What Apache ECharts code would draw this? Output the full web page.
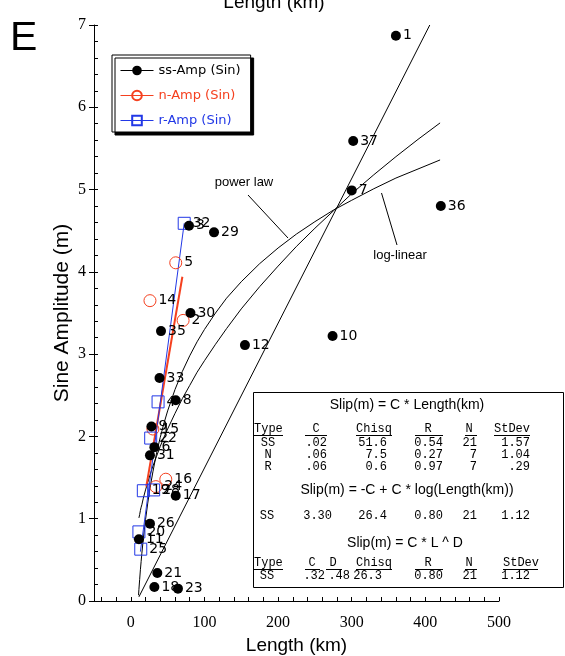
<!DOCTYPE html>
<html>
<head>
<meta charset="utf-8">
<script src="https://cdn.jsdelivr.net/npm/echarts@6/dist/echarts.min.js"></script>
<style>
  html, body { margin: 0; padding: 0; background: #fff; }
  #chart { width: 565px; height: 656px; }
</style>
</head>
<body>
<div id="chart"></div>
<script>
// Strike-slip (ss), normal (n) and reverse (r) sine amplitudes vs. rupture length
const ssIds    = ['1','37','7','36','10','12','29','3','30','35','33','8','9','6','31','17','26','11','21','18','23'];
const ssLength = [360, 302, 300, 421, 274, 155, 113, 79, 81, 41, 39, 61, 28, 32, 26, 61, 26, 11, 36, 32, 64];
const ssSlip   = [6.87, 5.59, 4.99, 4.80, 3.22, 3.11, 4.48, 4.56, 3.50, 3.28, 2.71, 2.44, 2.12, 1.87, 1.77, 1.28, 0.94, 0.75, 0.34, 0.17, 0.15];

const nIds    = ['5','14','2','15','16','24'];
const nLength = [61, 26, 71, 30, 47.5, 34];
const nSlip   = [4.11, 3.65, 3.41, 2.09, 1.48, 1.39];

const rIds    = ['32','4','22','19','28','20','25'];
const rLength = [72.5, 37, 27, 17, 31, 11, 13.5];
const rSlip   = [4.59, 2.42, 1.98, 1.34, 1.35, 0.84, 0.63];

// Fitted relations (ss linear, ss log-linear, ss power law, n and r linear)
const linFitL = [11, 406];
const linFitS = [0.05, 7.0];
const logFitL = [10.5, 11, 12, 13, 14, 15, 17, 20, 23, 26, 30, 35, 40, 45, 50, 60, 70, 80, 90, 100, 115, 130, 150, 175, 200, 225, 250, 275, 300, 330, 360, 390, 420];
const logFitS = [0.07, 0.14, 0.26, 0.38, 0.48, 0.58, 0.76, 0.99, 1.19, 1.37, 1.57, 1.80, 1.99, 2.16, 2.31, 2.57, 2.79, 2.98, 3.15, 3.30, 3.50, 3.68, 3.88, 4.10, 4.29, 4.46, 4.61, 4.75, 4.87, 5.01, 5.14, 5.25, 5.36];
const powFitL = [11, 12, 13, 14, 15, 17, 20, 23, 26, 30, 35, 40, 45, 50, 60, 70, 80, 90, 100, 115, 130, 150, 175, 200, 225, 250, 275, 300, 330, 360, 390, 420];
const powFitS = [1.01, 1.05, 1.10, 1.14, 1.17, 1.25, 1.35, 1.44, 1.53, 1.64, 1.76, 1.88, 1.99, 2.09, 2.28, 2.46, 2.62, 2.78, 2.92, 3.12, 3.31, 3.55, 3.82, 4.07, 4.31, 4.53, 4.74, 4.95, 5.18, 5.40, 5.61, 5.81];
const nFitL = [21, 70];
const nFitS = [1.39, 3.94];
const rFitL = [13, 72.5];
const rFitS = [0.60, 4.59];

// Axis ticks
const xLabelValues = [0, 100, 200, 300, 400, 500];
const xTickValues = [-40, -20, 0, 20, 40, 60, 80, 100, 120, 140, 160, 180, 200, 220, 240, 260, 280, 300, 320, 340, 360, 380, 400, 420, 440, 460, 480, 500];

// Fit statistics table
const fitTitles = ['Slip(m) = C * Length(km)', 'Slip(m) = -C + C * log(Length(km))', 'Slip(m) = C * L ^ D'];
const linHeader = ['Type', 'C', 'Chisq', 'R', 'N', 'StDev'];
const linRows = [
  ['SS', '.02', '51.6', '0.54', '21', '1.57'],
  ['N',  '.06', '7.5',  '0.27', '7',  '1.04'],
  ['R',  '.06', '0.6',  '0.97', '7',  '.29']
];
const logRow = ['SS', '3.30', '26.4', '0.80', '21', '1.12'];
const powHeader = ['Type', 'C', 'D', 'Chisq', 'R', 'N', 'StDev'];
const powRow = ['SS', '.32', '.48', '26.3', '0.80', '21', '1.12'];

const RED = '#f5401f';
const BLUE = '#2238e6';
const SANS = 'Liberation Sans';
const MONO = 'Liberation Mono';

const pairs = (xs, ys) => xs.map((x, i) => [x, ys[i]]);
const named = (ids, xs, ys) => xs.map((x, i) => ({ value: [x, ys[i]], name: ids[i] }));

const pointLabel = {
  show: true, position: 'right', distance: 2, formatter: '{b}',
  fontFamily: 'DejaVu Sans', fontSize: 14, color: '#000'
};

function fitLine(data, color, width) {
  return {
    type: 'line', data: data, showSymbol: false, symbol: 'none', silent: true,
    lineStyle: { color: color, width: width }, z: 1, smooth: false
  };
}

// ---- table graphics ----
const g = [];
function txt(t, x, y, font, align, color) {
  g.push({ type: 'text', x: x, y: y, silent: true, z: 100,
    style: { text: t, font: font, fill: color || '#000', align: align, verticalAlign: 'middle' } });
}
function hline(x1, x2, y) {
  g.push({ type: 'line', silent: true, z: 100, shape: { x1: x1, y1: y, x2: x2, y2: y },
    style: { stroke: '#000', lineWidth: 1 } });
}
function seg(x1, y1, x2, y2) {
  g.push({ type: 'line', silent: true, z: 100, shape: { x1: x1, y1: y1, x2: x2, y2: y2 },
    style: { stroke: '#000', lineWidth: 1 } });
}

g.push({ type: 'rect', silent: true, z: 99, shape: { x: 253.5, y: 392.5, width: 310, height: 195 },
  style: { fill: '#fff', stroke: '#000', lineWidth: 1 } });

const titleFont = '14px ' + SANS;
const monoFont = '12px ' + MONO;

txt(fitTitles[0], 407, 405, titleFont, 'center');
// linear header
const linHeadPos = [[254, 'left', 254, 283], [316, 'center', 305, 327], [356, 'left', 356, 392],
                    [428, 'center', 415, 443], [469, 'center', 465, 477], [494, 'left', 494, 530]];
linHeader.forEach((h, i) => {
  const p = linHeadPos[i];
  txt(h, p[0], 429, monoFont, p[1]);
  hline(p[2], p[3], 435.5);
});
const linColPos = [[268, 'center'], [327, 'right'], [387, 'right'], [443, 'right'], [477, 'right'], [530, 'right']];
linRows.forEach((row, r) => {
  row.forEach((c, i) => txt(c, linColPos[i][0], 442.5 + r * 12, monoFont, linColPos[i][1]));
});

txt(fitTitles[1], 407, 490, titleFont, 'center');
const logColPos = [[267, 'center'], [332, 'right'], [387, 'right'], [443, 'right'], [477, 'right'], [530, 'right']];
logRow.forEach((c, i) => txt(c, logColPos[i][0], 516, monoFont, logColPos[i][1]));

txt(fitTitles[2], 405, 543, titleFont, 'center');
const powHeadPos = [[254, 'left', 254, 283], [312, 'center', 305, 320], [333, 'center', 326, 342],
                    [356, 'left', 356, 392], [428, 'center', 415, 443], [469, 'center', 465, 477],
                    [503, 'left', 503, 538]];
powHeader.forEach((h, i) => {
  const p = powHeadPos[i];
  txt(h, p[0], 563, monoFont, p[1]);
  hline(p[2], p[3], 569.5);
});
const powColPos = [[267, 'center'], [325, 'right'], [350, 'right'], [382, 'right'], [443, 'right'], [477, 'right'], [530, 'right']];
powRow.forEach((c, i) => txt(c, powColPos[i][0], 576, monoFont, powColPos[i][1]));

// curve annotations
txt('power law', 244, 182, '13px ' + SANS, 'center');
seg(248, 195, 288, 238);
txt('log-linear', 400, 255, '13px ' + SANS, 'center');
seg(381.5, 193, 397, 245);

// panel letter and the title of the panel above
txt('E', 10, 39, '41px ' + SANS, 'left');
txt('Length (km)', 274, 3, '19px ' + SANS, 'center');

const chart = echarts.init(document.getElementById('chart'), null, { renderer: 'canvas' });
chart.setOption({
  animation: false,
  backgroundColor: '#fff',
  grid: { left: 94, right: 66, top: 25, bottom: 55, containLabel: false, outerBoundsMode: 'none' },
  legend: {
    orient: 'vertical', left: 112, top: 55,
    padding: [9, 10, 5, 8], itemWidth: 33, itemHeight: 12, itemGap: 12,
    backgroundColor: '#fff', borderColor: '#000', borderWidth: 1,
    shadowColor: '#000', shadowBlur: 0, shadowOffsetX: 3, shadowOffsetY: 3,
    selectedMode: false,
    lineStyle: { width: 1, opacity: 1 },
    textStyle: { fontFamily: 'DejaVu Sans', fontSize: 13 },
    data: [
      { name: 'ss-Amp (Sin)', textStyle: { color: '#000' } },
      { name: 'n-Amp (Sin)', textStyle: { color: RED } },
      { name: 'r-Amp (Sin)', textStyle: { color: BLUE } }
    ]
  },
  xAxis: {
    type: 'value', min: -50, max: 500, interval: 50,
    name: 'Length (km)', nameLocation: 'middle', nameGap: 35, nameMoveOverlap: false,
    nameTextStyle: { fontFamily: SANS, fontSize: 19, color: '#000' },
    axisLine: { show: true, onZero: false, lineStyle: { color: '#000', width: 1 } },
    axisTick: { show: true, inside: true, length: 4, customValues: xTickValues, lineStyle: { color: '#000' } },
    axisLabel: { customValues: xLabelValues, fontFamily: 'Liberation Serif', fontSize: 16, color: '#000', margin: 14 },
    splitLine: { show: false }
  },
  yAxis: [{
    type: 'value', min: 0, max: 7, interval: 1,
    name: 'Sine Amplitude (m)', nameLocation: 'middle', nameGap: 21, nameMoveOverlap: false,
    nameTextStyle: { fontFamily: SANS, fontSize: 21, color: '#000' },
    axisLine: { show: true, onZero: false, lineStyle: { color: '#000', width: 1 } },
    axisTick: { show: true, inside: false, length: 5, lineStyle: { color: '#000' } },
    axisLabel: { fontFamily: 'Liberation Serif', fontSize: 16, color: '#000', margin: 8 },
    splitLine: { show: false }
  }, {
    type: 'value', min: 0, max: 7, interval: 0.2, position: 'left', offset: 0,
    axisLine: { show: false, onZero: false },
    axisTick: { show: true, inside: true, length: 4, lineStyle: { color: '#000' } },
    axisLabel: { show: false },
    splitLine: { show: false }
  }],
  series: [
    fitLine(pairs(linFitL, linFitS), '#000', 1),
    fitLine(pairs(logFitL, logFitS), '#000', 1),
    fitLine(pairs(powFitL, powFitS), '#000', 1),
    fitLine(pairs(nFitL, nFitS), RED, 2),
    fitLine(pairs(rFitL, rFitS), BLUE, 1),
    {
      name: 'ss-Amp (Sin)', type: 'line', z: 5,
      data: named(ssIds, ssLength, ssSlip),
      symbol: 'circle', symbolSize: 10, showSymbol: true,
      lineStyle: { width: 0, color: '#000' },
      itemStyle: { color: '#000' },
      label: pointLabel
    },
    {
      name: 'n-Amp (Sin)', type: 'line', z: 4,
      data: named(nIds, nLength, nSlip),
      symbol: 'circle', symbolSize: 12, showSymbol: true,
      lineStyle: { width: 0, color: RED },
      itemStyle: { color: 'rgba(255,255,255,0)', borderColor: RED, borderWidth: 1 },
      label: pointLabel
    },
    {
      name: 'r-Amp (Sin)', type: 'line', z: 4,
      data: named(rIds, rLength, rSlip),
      symbol: 'rect', symbolSize: 12, showSymbol: true,
      lineStyle: { width: 0, color: BLUE },
      itemStyle: { color: 'rgba(255,255,255,0)', borderColor: BLUE, borderWidth: 1 },
      label: pointLabel
    }
  ],
  graphic: g
});
</script>
</body>
</html>
